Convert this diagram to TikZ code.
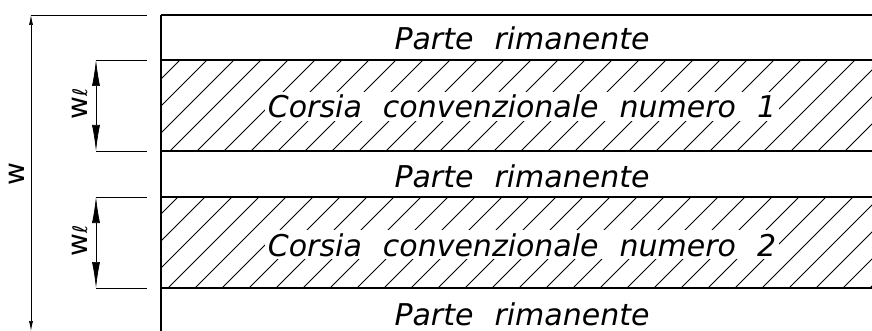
\documentclass[tikz,border=0pt]{standalone}
\usepackage{fontspec}
\newfontfamily\isofont{DejaVu Sans}[WordSpace=2.2]
\usetikzlibrary{arrows.meta}
\tikzset{
	lane/.style={line width=1.1pt},
	border/.style={line width=1.8pt},
	hatch/.style={line width=0.75pt},
	dim/.style={line width=0.7pt},
	lbl/.style={font=\isofont\itshape\fontsize{30}{30}\selectfont,fill=white,inner sep=3pt,anchor=base},
	dimlbl/.style={font=\isofont\fontsize{28}{28}\selectfont,rotate=90,inner sep=0pt},
	bigtip/.style={{Latex[length=26pt,width=8pt]}-{Latex[length=26pt,width=8pt]}},
	smalltip/.style={{Latex[length=10pt,width=4pt]}-{Latex[length=10pt,width=4pt]}}
}
\begin{document}
\begin{tikzpicture}[x=1pt,y=-1pt]
		\useasboundingbox (0,0) rectangle (872,331);
		% hatching of the two lanes
		\begin{scope}
			\clip (161,60) rectangle (872,151) (161,197) rectangle (872,288);
			\foreach \k in {-8,...,30}
				\draw[hatch] ({375+27*\k-40},40) -- ({375+27*\k-300},300);
		\end{scope}
		% texts
		\node[lbl] (p1) at (522,50) {Parte rimanente};
		\node[lbl] (c1) at (522,118) {Corsia convenzionale numero 1};
		\node[lbl] (p2) at (522,187) {Parte rimanente};
		\node[lbl] (c2) at (522,256) {Corsia convenzionale numero 2};
		\node[lbl] (p3) at (522,325) {Parte rimanente};
		% lane borders
		\foreach \y in {15,60,151,197,288}
			\draw[lane] (161,\y) -- (872,\y);
		\draw[border] (161,15) -- (161,331);
		% total width
		\coordinate (wt) at (31,15);
		\coordinate (wb) at (31,331);
		\coordinate (we) at (147,15);
		\draw[dim] (wt) -- (we);
		\draw[dim,smalltip] (wt) -- (wb);
		\node[dimlbl] (w) at (17,174) {w};
		% lane widths
		\foreach \a/\b/\n in {60/151/1,197/288/2}{
			\coordinate (l\n t) at (96,\a);
			\coordinate (l\n b) at (96,\b);
			\draw[dim] (l\n t) -- (147,\a);
			\draw[dim] (l\n b) -- (147,\b);
			\draw[dim,bigtip] (l\n t) -- (l\n b);
			\node[dimlbl] (wl\n) at (80,{(\a+\b)/2-2}) {w{\fontsize{20}{20}\selectfont ℓ}};
		}
	\end{tikzpicture}
\end{document}
